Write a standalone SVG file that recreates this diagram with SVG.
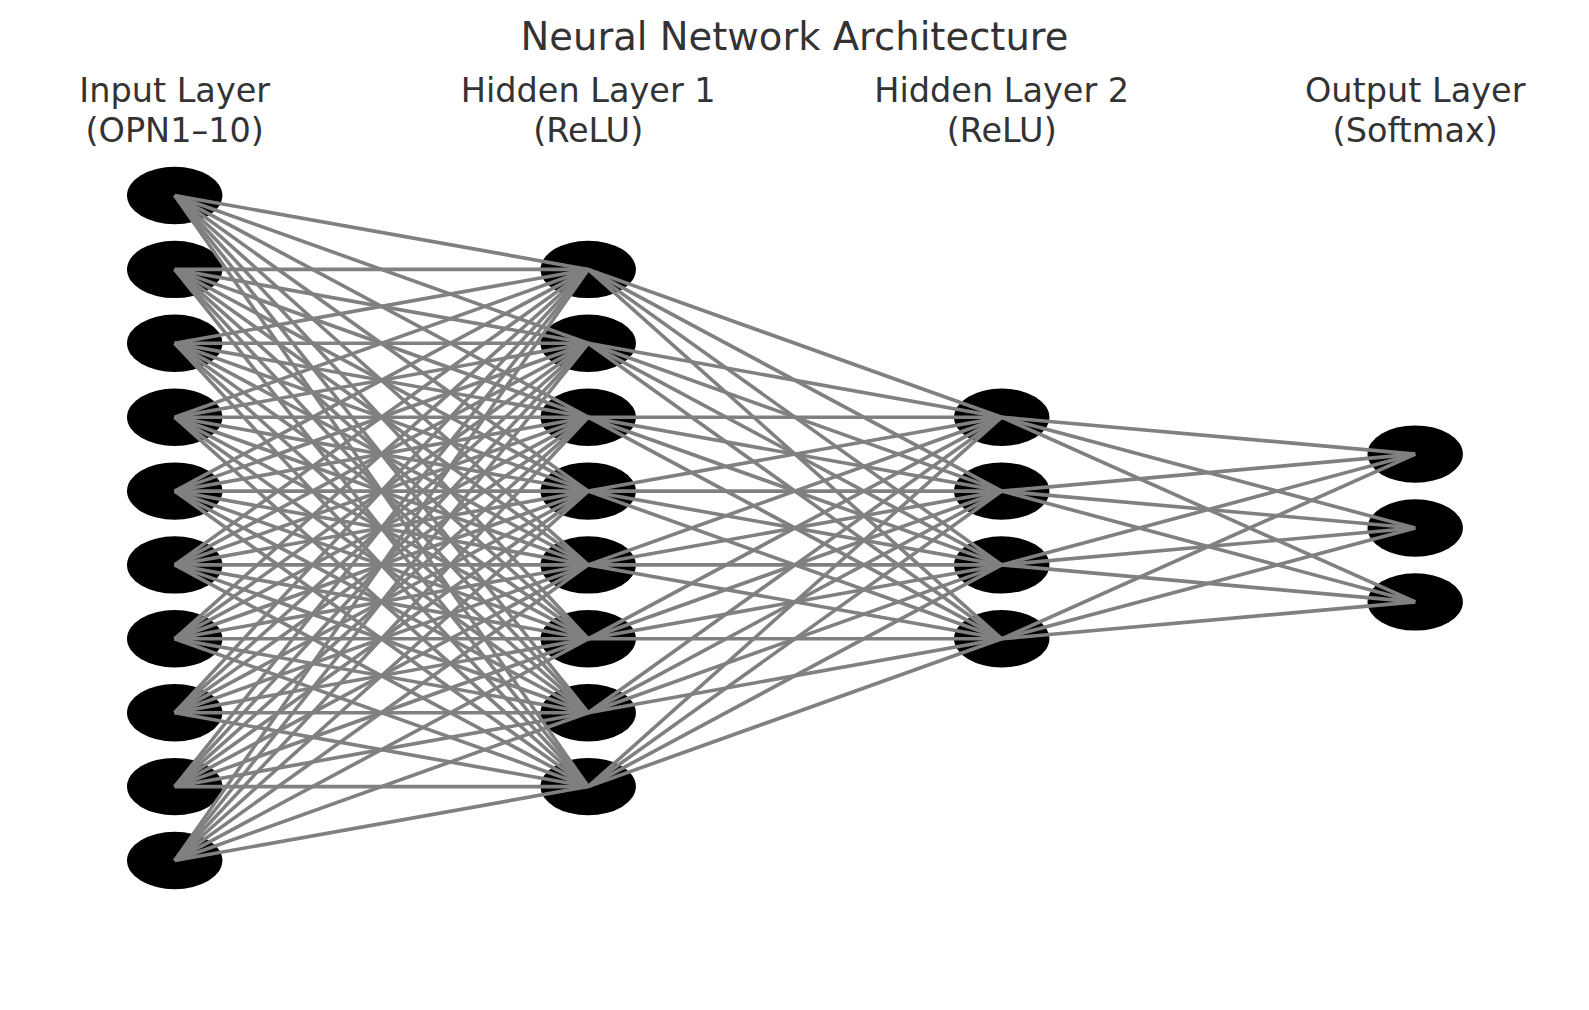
<svg xmlns="http://www.w3.org/2000/svg" width="1589" height="1010" viewBox="0 0 1589 1010">
<style>
.t{font-family:"DejaVu Sans","Liberation Sans",sans-serif;fill:#333333;text-anchor:middle}
.title{font-size:38.5px}
.lbl{font-size:33.5px}
.n{fill:#000000}
#connectors line{stroke:#808080;stroke-width:3.6;stroke-linecap:butt}
</style>
<rect width="1589" height="1010" fill="#ffffff"/>
<text class="t title" x="794.5" y="50">Neural Network Architecture</text>
<g id="labels">
<text class="t lbl" x="174.7" y="102">Input Layer</text>
<text class="t lbl" x="174.7" y="142">(OPN1–10)</text>
<text class="t lbl" x="588.2" y="102">Hidden Layer 1</text>
<text class="t lbl" x="588.2" y="142">(ReLU)</text>
<text class="t lbl" x="1001.7" y="102">Hidden Layer 2</text>
<text class="t lbl" x="1001.7" y="142">(ReLU)</text>
<text class="t lbl" x="1415.2" y="102">Output Layer</text>
<text class="t lbl" x="1415.2" y="142">(Softmax)</text>
</g>
<g id="nodes">
<g id="in1"><ellipse class="n" cx="174.7" cy="195.5" rx="47.7" ry="28.7"/></g>
<g id="in2"><ellipse class="n" cx="174.7" cy="269.4" rx="47.7" ry="28.7"/></g>
<g id="in3"><ellipse class="n" cx="174.7" cy="343.3" rx="47.7" ry="28.7"/></g>
<g id="in4"><ellipse class="n" cx="174.7" cy="417.2" rx="47.7" ry="28.7"/></g>
<g id="in5"><ellipse class="n" cx="174.7" cy="491.1" rx="47.7" ry="28.7"/></g>
<g id="in6"><ellipse class="n" cx="174.7" cy="564.9" rx="47.7" ry="28.7"/></g>
<g id="in7"><ellipse class="n" cx="174.7" cy="638.8" rx="47.7" ry="28.7"/></g>
<g id="in8"><ellipse class="n" cx="174.7" cy="712.7" rx="47.7" ry="28.7"/></g>
<g id="in9"><ellipse class="n" cx="174.7" cy="786.6" rx="47.7" ry="28.7"/></g>
<g id="in10"><ellipse class="n" cx="174.7" cy="860.5" rx="47.7" ry="28.7"/></g>
<g id="h1_1"><ellipse class="n" cx="588.2" cy="269.4" rx="47.7" ry="28.7"/></g>
<g id="h1_2"><ellipse class="n" cx="588.2" cy="343.3" rx="47.7" ry="28.7"/></g>
<g id="h1_3"><ellipse class="n" cx="588.2" cy="417.2" rx="47.7" ry="28.7"/></g>
<g id="h1_4"><ellipse class="n" cx="588.2" cy="491.1" rx="47.7" ry="28.7"/></g>
<g id="h1_5"><ellipse class="n" cx="588.2" cy="564.9" rx="47.7" ry="28.7"/></g>
<g id="h1_6"><ellipse class="n" cx="588.2" cy="638.8" rx="47.7" ry="28.7"/></g>
<g id="h1_7"><ellipse class="n" cx="588.2" cy="712.7" rx="47.7" ry="28.7"/></g>
<g id="h1_8"><ellipse class="n" cx="588.2" cy="786.6" rx="47.7" ry="28.7"/></g>
<g id="h2_1"><ellipse class="n" cx="1001.7" cy="417.2" rx="47.7" ry="28.7"/></g>
<g id="h2_2"><ellipse class="n" cx="1001.7" cy="491.1" rx="47.7" ry="28.7"/></g>
<g id="h2_3"><ellipse class="n" cx="1001.7" cy="564.9" rx="47.7" ry="28.7"/></g>
<g id="h2_4"><ellipse class="n" cx="1001.7" cy="638.8" rx="47.7" ry="28.7"/></g>
<g id="out1"><ellipse class="n" cx="1415.2" cy="454.1" rx="47.7" ry="28.7"/></g>
<g id="out2"><ellipse class="n" cx="1415.2" cy="528" rx="47.7" ry="28.7"/></g>
<g id="out3"><ellipse class="n" cx="1415.2" cy="601.9" rx="47.7" ry="28.7"/></g>
</g>
<g id="connectors">
<line x1="174.7" y1="195.5" x2="588.2" y2="269.4"/><line x1="174.7" y1="195.5" x2="588.2" y2="343.3"/><line x1="174.7" y1="195.5" x2="588.2" y2="417.2"/><line x1="174.7" y1="195.5" x2="588.2" y2="491.1"/><line x1="174.7" y1="195.5" x2="588.2" y2="564.9"/><line x1="174.7" y1="195.5" x2="588.2" y2="638.8"/><line x1="174.7" y1="195.5" x2="588.2" y2="712.7"/><line x1="174.7" y1="195.5" x2="588.2" y2="786.6"/>
<line x1="174.7" y1="269.4" x2="588.2" y2="269.4"/><line x1="174.7" y1="269.4" x2="588.2" y2="343.3"/><line x1="174.7" y1="269.4" x2="588.2" y2="417.2"/><line x1="174.7" y1="269.4" x2="588.2" y2="491.1"/><line x1="174.7" y1="269.4" x2="588.2" y2="564.9"/><line x1="174.7" y1="269.4" x2="588.2" y2="638.8"/><line x1="174.7" y1="269.4" x2="588.2" y2="712.7"/><line x1="174.7" y1="269.4" x2="588.2" y2="786.6"/>
<line x1="174.7" y1="343.3" x2="588.2" y2="269.4"/><line x1="174.7" y1="343.3" x2="588.2" y2="343.3"/><line x1="174.7" y1="343.3" x2="588.2" y2="417.2"/><line x1="174.7" y1="343.3" x2="588.2" y2="491.1"/><line x1="174.7" y1="343.3" x2="588.2" y2="564.9"/><line x1="174.7" y1="343.3" x2="588.2" y2="638.8"/><line x1="174.7" y1="343.3" x2="588.2" y2="712.7"/><line x1="174.7" y1="343.3" x2="588.2" y2="786.6"/>
<line x1="174.7" y1="417.2" x2="588.2" y2="269.4"/><line x1="174.7" y1="417.2" x2="588.2" y2="343.3"/><line x1="174.7" y1="417.2" x2="588.2" y2="417.2"/><line x1="174.7" y1="417.2" x2="588.2" y2="491.1"/><line x1="174.7" y1="417.2" x2="588.2" y2="564.9"/><line x1="174.7" y1="417.2" x2="588.2" y2="638.8"/><line x1="174.7" y1="417.2" x2="588.2" y2="712.7"/><line x1="174.7" y1="417.2" x2="588.2" y2="786.6"/>
<line x1="174.7" y1="491.1" x2="588.2" y2="269.4"/><line x1="174.7" y1="491.1" x2="588.2" y2="343.3"/><line x1="174.7" y1="491.1" x2="588.2" y2="417.2"/><line x1="174.7" y1="491.1" x2="588.2" y2="491.1"/><line x1="174.7" y1="491.1" x2="588.2" y2="564.9"/><line x1="174.7" y1="491.1" x2="588.2" y2="638.8"/><line x1="174.7" y1="491.1" x2="588.2" y2="712.7"/><line x1="174.7" y1="491.1" x2="588.2" y2="786.6"/>
<line x1="174.7" y1="564.9" x2="588.2" y2="269.4"/><line x1="174.7" y1="564.9" x2="588.2" y2="343.3"/><line x1="174.7" y1="564.9" x2="588.2" y2="417.2"/><line x1="174.7" y1="564.9" x2="588.2" y2="491.1"/><line x1="174.7" y1="564.9" x2="588.2" y2="564.9"/><line x1="174.7" y1="564.9" x2="588.2" y2="638.8"/><line x1="174.7" y1="564.9" x2="588.2" y2="712.7"/><line x1="174.7" y1="564.9" x2="588.2" y2="786.6"/>
<line x1="174.7" y1="638.8" x2="588.2" y2="269.4"/><line x1="174.7" y1="638.8" x2="588.2" y2="343.3"/><line x1="174.7" y1="638.8" x2="588.2" y2="417.2"/><line x1="174.7" y1="638.8" x2="588.2" y2="491.1"/><line x1="174.7" y1="638.8" x2="588.2" y2="564.9"/><line x1="174.7" y1="638.8" x2="588.2" y2="638.8"/><line x1="174.7" y1="638.8" x2="588.2" y2="712.7"/><line x1="174.7" y1="638.8" x2="588.2" y2="786.6"/>
<line x1="174.7" y1="712.7" x2="588.2" y2="269.4"/><line x1="174.7" y1="712.7" x2="588.2" y2="343.3"/><line x1="174.7" y1="712.7" x2="588.2" y2="417.2"/><line x1="174.7" y1="712.7" x2="588.2" y2="491.1"/><line x1="174.7" y1="712.7" x2="588.2" y2="564.9"/><line x1="174.7" y1="712.7" x2="588.2" y2="638.8"/><line x1="174.7" y1="712.7" x2="588.2" y2="712.7"/><line x1="174.7" y1="712.7" x2="588.2" y2="786.6"/>
<line x1="174.7" y1="786.6" x2="588.2" y2="269.4"/><line x1="174.7" y1="786.6" x2="588.2" y2="343.3"/><line x1="174.7" y1="786.6" x2="588.2" y2="417.2"/><line x1="174.7" y1="786.6" x2="588.2" y2="491.1"/><line x1="174.7" y1="786.6" x2="588.2" y2="564.9"/><line x1="174.7" y1="786.6" x2="588.2" y2="638.8"/><line x1="174.7" y1="786.6" x2="588.2" y2="712.7"/><line x1="174.7" y1="786.6" x2="588.2" y2="786.6"/>
<line x1="174.7" y1="860.5" x2="588.2" y2="269.4"/><line x1="174.7" y1="860.5" x2="588.2" y2="343.3"/><line x1="174.7" y1="860.5" x2="588.2" y2="417.2"/><line x1="174.7" y1="860.5" x2="588.2" y2="491.1"/><line x1="174.7" y1="860.5" x2="588.2" y2="564.9"/><line x1="174.7" y1="860.5" x2="588.2" y2="638.8"/><line x1="174.7" y1="860.5" x2="588.2" y2="712.7"/><line x1="174.7" y1="860.5" x2="588.2" y2="786.6"/>
<line x1="588.2" y1="269.4" x2="1001.7" y2="417.2"/><line x1="588.2" y1="269.4" x2="1001.7" y2="491.1"/><line x1="588.2" y1="269.4" x2="1001.7" y2="564.9"/><line x1="588.2" y1="269.4" x2="1001.7" y2="638.8"/>
<line x1="588.2" y1="343.3" x2="1001.7" y2="417.2"/><line x1="588.2" y1="343.3" x2="1001.7" y2="491.1"/><line x1="588.2" y1="343.3" x2="1001.7" y2="564.9"/><line x1="588.2" y1="343.3" x2="1001.7" y2="638.8"/>
<line x1="588.2" y1="417.2" x2="1001.7" y2="417.2"/><line x1="588.2" y1="417.2" x2="1001.7" y2="491.1"/><line x1="588.2" y1="417.2" x2="1001.7" y2="564.9"/><line x1="588.2" y1="417.2" x2="1001.7" y2="638.8"/>
<line x1="588.2" y1="491.1" x2="1001.7" y2="417.2"/><line x1="588.2" y1="491.1" x2="1001.7" y2="491.1"/><line x1="588.2" y1="491.1" x2="1001.7" y2="564.9"/><line x1="588.2" y1="491.1" x2="1001.7" y2="638.8"/>
<line x1="588.2" y1="564.9" x2="1001.7" y2="417.2"/><line x1="588.2" y1="564.9" x2="1001.7" y2="491.1"/><line x1="588.2" y1="564.9" x2="1001.7" y2="564.9"/><line x1="588.2" y1="564.9" x2="1001.7" y2="638.8"/>
<line x1="588.2" y1="638.8" x2="1001.7" y2="417.2"/><line x1="588.2" y1="638.8" x2="1001.7" y2="491.1"/><line x1="588.2" y1="638.8" x2="1001.7" y2="564.9"/><line x1="588.2" y1="638.8" x2="1001.7" y2="638.8"/>
<line x1="588.2" y1="712.7" x2="1001.7" y2="417.2"/><line x1="588.2" y1="712.7" x2="1001.7" y2="491.1"/><line x1="588.2" y1="712.7" x2="1001.7" y2="564.9"/><line x1="588.2" y1="712.7" x2="1001.7" y2="638.8"/>
<line x1="588.2" y1="786.6" x2="1001.7" y2="417.2"/><line x1="588.2" y1="786.6" x2="1001.7" y2="491.1"/><line x1="588.2" y1="786.6" x2="1001.7" y2="564.9"/><line x1="588.2" y1="786.6" x2="1001.7" y2="638.8"/>
<line x1="1001.7" y1="417.2" x2="1415.2" y2="454.1"/><line x1="1001.7" y1="417.2" x2="1415.2" y2="528"/><line x1="1001.7" y1="417.2" x2="1415.2" y2="601.9"/>
<line x1="1001.7" y1="491.1" x2="1415.2" y2="454.1"/><line x1="1001.7" y1="491.1" x2="1415.2" y2="528"/><line x1="1001.7" y1="491.1" x2="1415.2" y2="601.9"/>
<line x1="1001.7" y1="564.9" x2="1415.2" y2="454.1"/><line x1="1001.7" y1="564.9" x2="1415.2" y2="528"/><line x1="1001.7" y1="564.9" x2="1415.2" y2="601.9"/>
<line x1="1001.7" y1="638.8" x2="1415.2" y2="454.1"/><line x1="1001.7" y1="638.8" x2="1415.2" y2="528"/><line x1="1001.7" y1="638.8" x2="1415.2" y2="601.9"/>
</g>
</svg>
